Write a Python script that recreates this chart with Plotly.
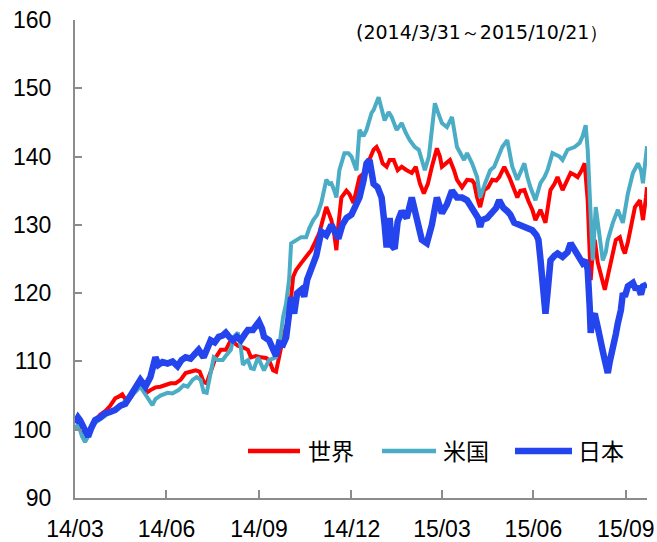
import plotly.graph_objects as go

# ---- series: 世界 (world) ----
world_dates = [
    "2014-03-31", "2014-04-05", "2014-04-10", "2014-04-13", "2014-04-17", "2014-04-21",
    "2014-04-25", "2014-04-30", "2014-05-05", "2014-05-10", "2014-05-13", "2014-05-17",
    "2014-05-22", "2014-05-27", "2014-05-31", "2014-06-04", "2014-06-07", "2014-06-11",
    "2014-06-14", "2014-06-19", "2014-06-24", "2014-06-29", "2014-07-04", "2014-07-09",
    "2014-07-14", "2014-07-19", "2014-07-24", "2014-07-29", "2014-08-02", "2014-08-06",
    "2014-08-09", "2014-08-13", "2014-08-18", "2014-08-23", "2014-08-28", "2014-09-02",
    "2014-09-05", "2014-09-09", "2014-09-15", "2014-09-19", "2014-09-22", "2014-09-27",
    "2014-10-02", "2014-10-07", "2014-10-10", "2014-10-14", "2014-10-17", "2014-10-21",
    "2014-10-25", "2014-10-28", "2014-10-30", "2014-11-03", "2014-11-06", "2014-11-11",
    "2014-11-16", "2014-11-21", "2014-11-25", "2014-11-29", "2014-12-03", "2014-12-06",
    "2014-12-09", "2014-12-11", "2014-12-14", "2014-12-16", "2014-12-18", "2014-12-21",
    "2014-12-26", "2014-12-29", "2015-01-02", "2015-01-05", "2015-01-08", "2015-01-12",
    "2015-01-15", "2015-01-18", "2015-01-22", "2015-01-25", "2015-01-28", "2015-01-31",
    "2015-02-04", "2015-02-07", "2015-02-11", "2015-02-15", "2015-02-19", "2015-02-24",
    "2015-03-01", "2015-03-05", "2015-03-09", "2015-03-13", "2015-03-17", "2015-03-21",
    "2015-03-26", "2015-03-29", "2015-03-31", "2015-04-04", "2015-04-08", "2015-04-12",
    "2015-04-15", "2015-04-20", "2015-04-25", "2015-04-30", "2015-05-02", "2015-05-05",
    "2015-05-08", "2015-05-12", "2015-05-16", "2015-05-20", "2015-05-24", "2015-05-27",
    "2015-06-01", "2015-06-06", "2015-06-10", "2015-06-14", "2015-06-17", "2015-06-21",
    "2015-06-25", "2015-06-29", "2015-07-02", "2015-07-07", "2015-07-12", "2015-07-17",
    "2015-07-21", "2015-07-24", "2015-07-29", "2015-08-03", "2015-08-06", "2015-08-10",
    "2015-08-13", "2015-08-17", "2015-08-20", "2015-08-23", "2015-08-25", "2015-08-26",
    "2015-08-28", "2015-08-30", "2015-09-02", "2015-09-05", "2015-09-07", "2015-09-09",
    "2015-09-12", "2015-09-15", "2015-09-18", "2015-09-20", "2015-09-24", "2015-09-27",
    "2015-09-29", "2015-10-02", "2015-10-04", "2015-10-09", "2015-10-14", "2015-10-17",
    "2015-10-20", "2015-10-21",
]
world_vals = [
    100, 101, 99.8, 99.5, 100.5, 101.5,
    102.2, 102.7, 103.5, 104.6, 104.8, 105.2,
    104, 105, 106.2, 106.8, 106.5, 105.5,
    105.8, 106.2, 106.3, 106.5, 106.8, 106.8,
    107.3, 108.3, 108.5, 108.7, 108.5, 107,
    106.8, 108.5, 110.6, 111.7, 111.7, 113.1,
    112.8, 112.3, 112, 111.7, 110.6, 110.8,
    110.6, 110.5, 110.2, 108.7, 108.5, 111.5,
    114.2, 115.5, 116.5, 122.4, 123.4, 124.4,
    125.3, 126.3, 127.5, 128.8, 131, 132.6,
    131.5, 130.7, 128.5, 126.3, 130, 134,
    135, 134.5, 133.2, 135, 137, 137.5,
    138.5, 139.5, 141, 141.4, 140.5, 139,
    138.5, 139.5, 139.5, 138, 138.5, 138,
    137.6, 138.5, 136.1, 134.6, 136, 138.5,
    141.2, 140, 138.5, 139, 139.5, 138,
    136.6, 135.5, 136.6, 136.5, 136.1, 134,
    132.6, 135.1, 135.5, 136.6, 136.5, 137,
    138.5, 137, 135.5, 134, 135, 135.1,
    133.5, 132.2, 130.7, 132.2, 130.3, 135.1,
    136, 137, 135.1, 136.6, 137.6, 137.3,
    137, 138, 139, 133.6, 124, 121.9,
    126, 127.8, 124.5, 123, 121.5, 120.5,
    122.5, 124.8, 126.5, 127.8, 128.2, 126.5,
    125.8, 127.5, 129.2, 132.6, 133.6, 130.7,
    134, 135.5,
]

# ---- series: 米国 (US) ----
us_dates = [
    "2014-03-31", "2014-04-03", "2014-04-07", "2014-04-10", "2014-04-13", "2014-04-16",
    "2014-04-20", "2014-04-25", "2014-04-30", "2014-05-05", "2014-05-10", "2014-05-15",
    "2014-05-20", "2014-05-25", "2014-05-30", "2014-06-04", "2014-06-08", "2014-06-12",
    "2014-06-16", "2014-06-19", "2014-06-24", "2014-07-01", "2014-07-06", "2014-07-12",
    "2014-07-17", "2014-07-21", "2014-07-26", "2014-07-30", "2014-08-03", "2014-08-06",
    "2014-08-09", "2014-08-13", "2014-08-16", "2014-08-20", "2014-08-25", "2014-08-29",
    "2014-09-02", "2014-09-05", "2014-09-09", "2014-09-12", "2014-09-14", "2014-09-17",
    "2014-09-19", "2014-09-22", "2014-09-25", "2014-09-29", "2014-10-02", "2014-10-05",
    "2014-10-10", "2014-10-14", "2014-10-17", "2014-10-20", "2014-10-24", "2014-10-27",
    "2014-10-30", "2014-11-01", "2014-11-06", "2014-11-11", "2014-11-16", "2014-11-19",
    "2014-11-23", "2014-11-27", "2014-12-01", "2014-12-06", "2014-12-09", "2014-12-11",
    "2014-12-14", "2014-12-16", "2014-12-19", "2014-12-24", "2014-12-28", "2014-12-31",
    "2015-01-05", "2015-01-08", "2015-01-12", "2015-01-15", "2015-01-20", "2015-01-22",
    "2015-01-27", "2015-01-30", "2015-02-02", "2015-02-06", "2015-02-09", "2015-02-14",
    "2015-02-19", "2015-02-23", "2015-02-27", "2015-03-04", "2015-03-08", "2015-03-11",
    "2015-03-14", "2015-03-18", "2015-03-21", "2015-03-24", "2015-03-27", "2015-03-31",
    "2015-04-05", "2015-04-10", "2015-04-15", "2015-04-18", "2015-04-22", "2015-04-25",
    "2015-04-30", "2015-05-05", "2015-05-08", "2015-05-13", "2015-05-18", "2015-05-22",
    "2015-05-25", "2015-05-30", "2015-06-04", "2015-06-09", "2015-06-14", "2015-06-17",
    "2015-06-21", "2015-06-24", "2015-06-27", "2015-07-02", "2015-07-07", "2015-07-11",
    "2015-07-14", "2015-07-19", "2015-07-26", "2015-07-29", "2015-08-03", "2015-08-10",
    "2015-08-15", "2015-08-18", "2015-08-21", "2015-08-23", "2015-08-25", "2015-08-26",
    "2015-08-28", "2015-08-31", "2015-09-02", "2015-09-04", "2015-09-07", "2015-09-10",
    "2015-09-12", "2015-09-17", "2015-09-22", "2015-09-25", "2015-09-27", "2015-10-02",
    "2015-10-07", "2015-10-12", "2015-10-15", "2015-10-17", "2015-10-20", "2015-10-21",
]
us_vals = [
    100, 100.8, 99, 98.2, 99, 100,
    101, 101.5, 102, 102.5, 103, 103.6,
    104.2, 104.8, 105.5, 106.3, 105.5, 104.5,
    103.6, 104.5, 105, 105.4, 105.3, 105.8,
    106.5, 106.3, 107.3, 107.7, 107.3, 105.5,
    105.4, 108, 110.6, 110.2, 110.2, 111,
    111.7, 113.6, 114.2, 112, 109.5, 110,
    110.2, 109, 108.9, 110.6, 109.5, 108.7,
    110.2, 110.5, 110.6, 112, 116.5, 118.5,
    122, 127.3, 127.8, 128.2, 128.2, 129.5,
    130.7, 131.5, 133.2, 136.6, 136, 136.1,
    135, 134, 138, 140.5, 140.5, 140,
    138, 143.9, 143, 143.9, 146.4, 146.8,
    148.7, 147, 145.3, 146.5, 145.8, 143.9,
    144.9, 143.5, 142.4, 141.4, 141, 139.5,
    138, 140, 143.4, 147.8, 146.5, 144.9,
    144.3, 145.8, 141.4, 140.5, 139.5, 140.5,
    139, 137, 134, 136.1, 138, 138.5,
    139.5, 141.4, 142.4, 138.5, 136.6, 137.5,
    139, 137, 135.5, 133.6, 136.1, 137,
    138, 140.5, 140, 139.5, 141, 141.4,
    142, 143, 144.6, 141, 133, 129.7,
    124.8, 132.6, 130.5, 128.8, 124.8, 126,
    127.8, 130.3, 132.2, 131, 130.3, 134.6,
    137.6, 139, 138, 136.1, 139.5, 141.5,
]

# ---- series: 日本 (Japan) ----
jp_dates = [
    "2014-03-31", "2014-04-03", "2014-04-05", "2014-04-08", "2014-04-11", "2014-04-13",
    "2014-04-16", "2014-04-20", "2014-04-25", "2014-04-30", "2014-05-05", "2014-05-10",
    "2014-05-15", "2014-05-20", "2014-05-27", "2014-06-01", "2014-06-04", "2014-06-09",
    "2014-06-14", "2014-06-19", "2014-06-22", "2014-06-26", "2014-07-01", "2014-07-06",
    "2014-07-11", "2014-07-15", "2014-07-19", "2014-07-24", "2014-07-27", "2014-08-01",
    "2014-08-06", "2014-08-10", "2014-08-13", "2014-08-17", "2014-08-21", "2014-08-25",
    "2014-08-28", "2014-09-01", "2014-09-04", "2014-09-08", "2014-09-12", "2014-09-16",
    "2014-09-19", "2014-09-24", "2014-09-27", "2014-09-30", "2014-10-03", "2014-10-05",
    "2014-10-10", "2014-10-13", "2014-10-15", "2014-10-17", "2014-10-20", "2014-10-24",
    "2014-10-27", "2014-10-30", "2014-11-01", "2014-11-04", "2014-11-07", "2014-11-11",
    "2014-11-14", "2014-11-17", "2014-11-21", "2014-11-26", "2014-12-01", "2014-12-06",
    "2014-12-11", "2014-12-15", "2014-12-18", "2014-12-22", "2014-12-26", "2014-12-31",
    "2015-01-05", "2015-01-08", "2015-01-12", "2015-01-15", "2015-01-18", "2015-01-22",
    "2015-01-26", "2015-01-30", "2015-02-02", "2015-02-04", "2015-02-07", "2015-02-09",
    "2015-02-12", "2015-02-15", "2015-02-19", "2015-02-24", "2015-03-01", "2015-03-06",
    "2015-03-11", "2015-03-16", "2015-03-21", "2015-03-26", "2015-03-31", "2015-04-05",
    "2015-04-10", "2015-04-15", "2015-04-20", "2015-04-25", "2015-05-02", "2015-05-06",
    "2015-05-08", "2015-05-10", "2015-05-15", "2015-05-20", "2015-05-24", "2015-05-27",
    "2015-05-31", "2015-06-04", "2015-06-07", "2015-06-11", "2015-06-15", "2015-06-19",
    "2015-06-24", "2015-06-29", "2015-07-03", "2015-07-05", "2015-07-07", "2015-07-09",
    "2015-07-12", "2015-07-14", "2015-07-17", "2015-07-21", "2015-07-24", "2015-07-29",
    "2015-08-03", "2015-08-06", "2015-08-10", "2015-08-13", "2015-08-18", "2015-08-21",
    "2015-08-23", "2015-08-25", "2015-08-26", "2015-08-28", "2015-08-30", "2015-09-02",
    "2015-09-04", "2015-09-07", "2015-09-09", "2015-09-12", "2015-09-14", "2015-09-17",
    "2015-09-20", "2015-09-22", "2015-09-25", "2015-09-27", "2015-09-29", "2015-10-02",
    "2015-10-05", "2015-10-07", "2015-10-10", "2015-10-12", "2015-10-15", "2015-10-17",
    "2015-10-20", "2015-10-21",
]
jp_vals = [
    101, 101.8, 101.4, 100.5, 99.3, 99,
    100.2, 101.4, 101.8, 102.4, 102.6, 102.9,
    103.5, 103.8, 105.4, 106.8, 107.3, 106.3,
    107.7, 110.6, 109.5, 109.9, 109.7, 110,
    109.3, 110.2, 110.6, 110.4, 110.8, 111.7,
    110.6, 112, 113.1, 112.8, 113.6, 113.8,
    114.2, 113.5, 113.1, 113.6, 113.1, 114,
    114.6, 114.6, 115.2, 115.8, 114.8, 113.6,
    113.1, 112, 111.2, 110.8, 112.7, 112.5,
    113.5, 116.5, 119.4, 117, 120, 120.5,
    119.5, 122, 123.4, 125.5, 129, 128.5,
    130, 128.5, 128, 130, 131, 131.5,
    133, 134, 136.5, 139, 139.5, 136,
    135.5, 134, 130, 126.7, 131, 127,
    126.5, 130.5, 132, 131, 134, 131,
    127.8, 127.3, 130, 134, 131.7, 133,
    135, 134, 134, 133.6, 132, 131,
    129.7, 130.7, 131, 132, 132.5, 133.6,
    132.5, 132, 131.5, 130.3, 130, 129.7,
    129.5, 129.2, 128.5, 127.8, 125, 121,
    117, 120, 124.8, 125.5, 125.8, 125.3,
    126, 127.3, 126.3, 125.3, 124.4, 124.8,
    123.4, 118, 114.2, 116.5, 117, 115,
    113, 111.5, 110.2, 108.3, 110, 112.7,
    114, 115.6, 117.5, 120, 119.5, 121,
    121.5, 121.5, 120.5, 121, 119.8, 121,
    121.2, 121.3,
]

# ---- axis ticks ----
tick_dates = ["2014-03-31", "2014-06-30", "2014-09-30", "2014-12-31",
              "2015-03-31", "2015-06-30", "2015-09-30"]
tick_labels = ["14/03", "14/06", "14/09", "14/12", "15/03", "15/06", "15/09"]
y_ticks = [90, 100, 110, 120, 130, 140, 150, 160]

period_note = "(2014/3/31～2015/10/21）"

series_names = ["世界", "米国", "日本"]
series_colors = ["#FF0000", "#4BACC6", "#2444EE"]
series_widths = [4, 4, 6.5]

# figure and plot-area geometry (pixels)
W, H = 657, 542
L, R, T, B = 75, 10, 20, 44
pw, ph = W - L - R, H - T - B


def px(x):
    return (x - L) / pw


def py(y):
    return (H - B - y) / ph


fig = go.Figure()
for name, xs, ys, color, width in zip(
        series_names,
        [world_dates, us_dates, jp_dates],
        [world_vals, us_vals, jp_vals],
        series_colors, series_widths):
    fig.add_trace(go.Scatter(
        x=xs, y=ys, name=name, mode="lines",
        line=dict(color=color, width=width, shape="linear"),
        showlegend=False,
    ))

axis_gray = "#8C8C8C"
tick_font = dict(family="Liberation Sans, Arial, sans-serif", size=23, color="#000000")

fig.update_layout(
    width=W, height=H,
    margin=dict(l=L, r=R, t=T, b=B, autoexpand=False),
    paper_bgcolor="white", plot_bgcolor="white",
    xaxis=dict(
        type="date",
        range=["2014-03-31", "2015-10-21"],
        tickmode="array", tickvals=tick_dates, ticktext=tick_labels,
        ticks="inside", ticklen=8, tickwidth=2, tickcolor=axis_gray,
        showline=True, linecolor=axis_gray, linewidth=2,
        showgrid=False, zeroline=False, automargin=False,
        tickfont=tick_font, ticklabelstandoff=9,
    ),
    yaxis=dict(
        range=[90, 160],
        tickmode="array", tickvals=y_ticks,
        ticks="inside", ticklen=7, tickwidth=2, tickcolor=axis_gray,
        showline=True, linecolor=axis_gray, linewidth=2,
        showgrid=False, zeroline=False, automargin=False,
        tickfont=tick_font, ticklabelstandoff=17,
    ),
)

# period note in the upper right
fig.add_annotation(
    x=px(482), y=py(32), xref="paper", yref="paper", text=period_note, showarrow=False,
    font=dict(family="DejaVu Sans, sans-serif", size=19, color="#000000"),
    xanchor="center", yanchor="middle",
)

# legend drawn inside the plot area
legend_items = [
    (248, 300, 331),
    (382, 436, 466),
    (515, 572, 601),
]
legend_y = 451
for (x0, x1, tx), name, color, width in zip(legend_items, series_names,
                                            series_colors, [4.5, 4.5, 6.5]):
    fig.add_shape(type="line", xref="paper", yref="paper",
                  x0=px(x0), x1=px(x1), y0=py(legend_y), y1=py(legend_y),
                  line=dict(color=color, width=width))
    fig.add_annotation(x=px(tx), y=py(legend_y - 1), xref="paper", yref="paper",
                       text=name, showarrow=False, xanchor="center", yanchor="middle",
                       font=dict(family="Noto Sans CJK JP", size=23, color="#000000"))

fig.write_html("out.html")
